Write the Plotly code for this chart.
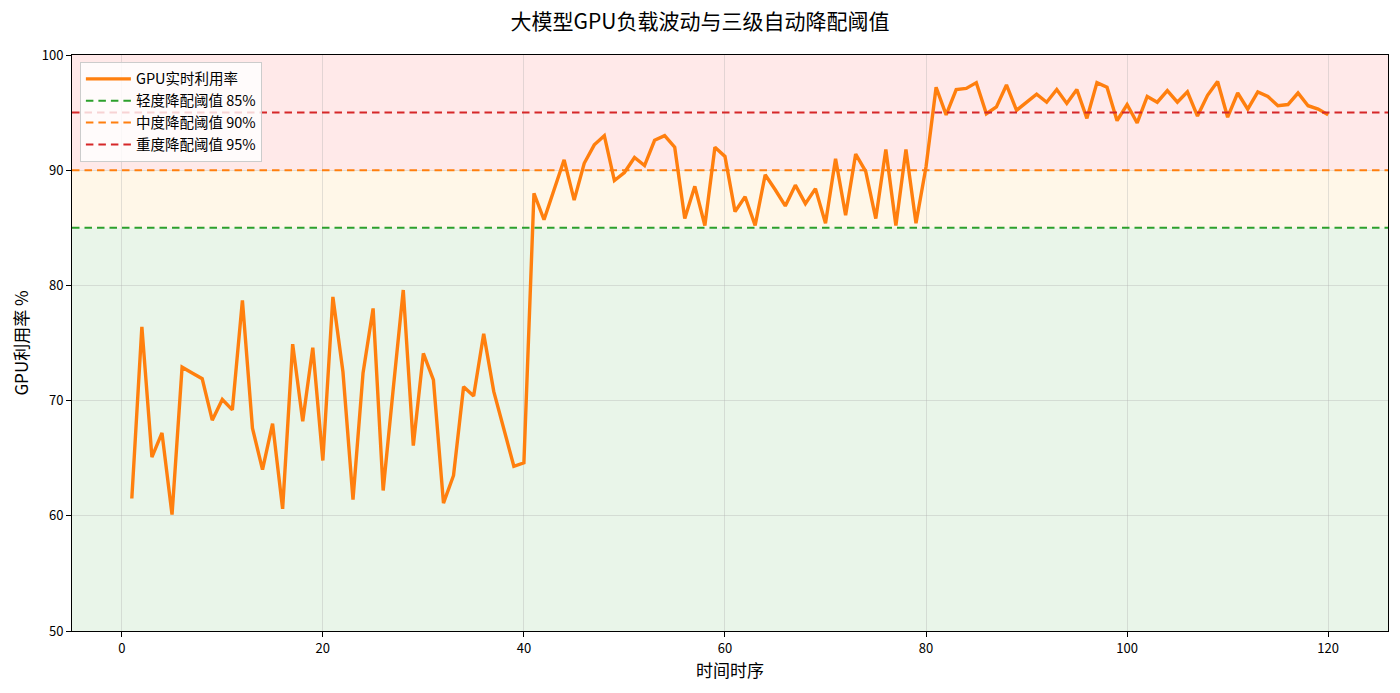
import plotly.graph_objects as go

# ---- data ----
time_steps = list(range(1, 121))
gpu_util = [
    61.5, 76.4, 65.1, 67.2, 60.1, 72.9, 72.4, 71.9, 68.3, 70.1,
    69.2, 78.7, 67.6, 64.0, 68.0, 60.6, 74.9, 68.2, 74.6, 64.8,
    79.0, 72.5, 61.4, 72.4, 78.0, 62.2, 71.0, 79.6, 66.1, 74.1,
    71.8, 61.1, 63.5, 71.2, 70.4, 75.8, 70.8, 67.6, 64.3, 64.6,
    88.0, 85.7, 88.3, 90.9, 87.4, 90.6, 92.2, 93.0, 89.1, 89.8,
    91.1, 90.4, 92.6, 93.0, 92.0, 85.8, 88.6, 85.2, 92.0, 91.2,
    86.4, 87.7, 85.2, 89.6, 88.3, 86.9, 88.7, 87.1, 88.4, 85.4,
    91.0, 86.1, 91.4, 89.9, 85.8, 91.8, 85.2, 91.8, 85.4, 90.3,
    97.2, 94.8, 97.0, 97.1, 97.6, 94.9, 95.5, 97.4, 95.2, 95.9,
    96.6, 95.9, 97.0, 95.8, 97.0, 94.5, 97.6, 97.2, 94.3, 95.7,
    94.1, 96.4, 95.9, 96.9, 95.9, 96.8, 94.7, 96.5, 97.7, 94.6,
    96.7, 95.3, 96.8, 96.4, 95.6, 95.7, 96.7, 95.6, 95.3, 94.8,
]
threshold_values = [85, 90, 95]
threshold_names = ["轻度降配阈值 85%", "中度降配阈值 90%", "重度降配阈值 95%"]
threshold_colors = ["#2ca02c", "#ff7f0e", "#d62728"]
band_edges = [50, 85, 90, 100]
band_colors = ["rgba(44,160,44,0.10)", "rgba(255,165,0,0.09)", "rgba(255,0,0,0.085)"]

x_ticks = [0, 20, 40, 60, 80, 100, 120]
y_ticks = [50, 60, 70, 80, 90, 100]

FONT = "Noto Sans CJK SC, Noto Sans, DejaVu Sans, sans-serif"

fig = go.Figure()

fig.add_trace(go.Scatter(
    x=time_steps, y=gpu_util, mode="lines", name="GPU实时利用率",
    line=dict(color="#ff7f0e", width=3.4), legendrank=1,
))

# background bands
for i, c in enumerate(band_colors):
    fig.add_shape(type="rect", xref="x domain", yref="y", x0=0, x1=1,
                  y0=band_edges[i], y1=band_edges[i + 1],
                  fillcolor=c, line=dict(width=0), layer="below")

# threshold lines
for i, (v, n, c) in enumerate(zip(threshold_values, threshold_names, threshold_colors)):
    fig.add_shape(type="line", xref="x domain", yref="y", x0=0, x1=1, y0=v, y1=v,
                  line=dict(color=c, width=2, dash="7.5px,5px"),
                  showlegend=True, name=n, legendrank=2 + i, layer="above")

x_min = time_steps[0] - 0.05 * (time_steps[-1] - time_steps[0])
x_max = time_steps[-1] + 0.05 * (time_steps[-1] - time_steps[0])

fig.update_layout(
    width=1400, height=693,
    margin=dict(l=72, r=12, t=55, b=62),
    paper_bgcolor="white", plot_bgcolor="white",
    font=dict(family=FONT, size=13, color="black"),
    title=dict(text="大模型GPU负载波动与三级自动降配阈值", x=0.5, xanchor="center",
               y=1 - 22 / 693, yref="container", yanchor="middle",
               font=dict(size=21, family=FONT, color="black")),
    legend=dict(x=0.006, y=0.988, xanchor="left", yanchor="top",
                bgcolor="rgba(255,255,255,0.8)", bordercolor="#cccccc", borderwidth=1,
                font=dict(size=14.5, family=FONT), tracegroupgap=0, itemwidth=45),
    showlegend=True,
)

fig.update_xaxes(
    range=[x_min, x_max], tickvals=x_ticks, showgrid=True,
    gridcolor="rgba(176,176,176,0.35)", gridwidth=1,
    showline=True, linecolor="black", linewidth=1, mirror=True,
    ticks="outside", ticklen=5, tickcolor="black", zeroline=False,
    title=dict(text="时间时序", font=dict(size=17, family=FONT), standoff=6),
    tickfont=dict(size=13),
)
fig.update_yaxes(
    range=[50, 100], tickvals=y_ticks, showgrid=True,
    gridcolor="rgba(176,176,176,0.35)", gridwidth=1,
    showline=True, linecolor="black", linewidth=1, mirror=True,
    ticks="outside", ticklen=5, tickcolor="black", zeroline=False,
    title=dict(text="GPU利用率 %", font=dict(size=17, family=FONT), standoff=8),
    tickfont=dict(size=13),
)

fig.write_html("out.html")
